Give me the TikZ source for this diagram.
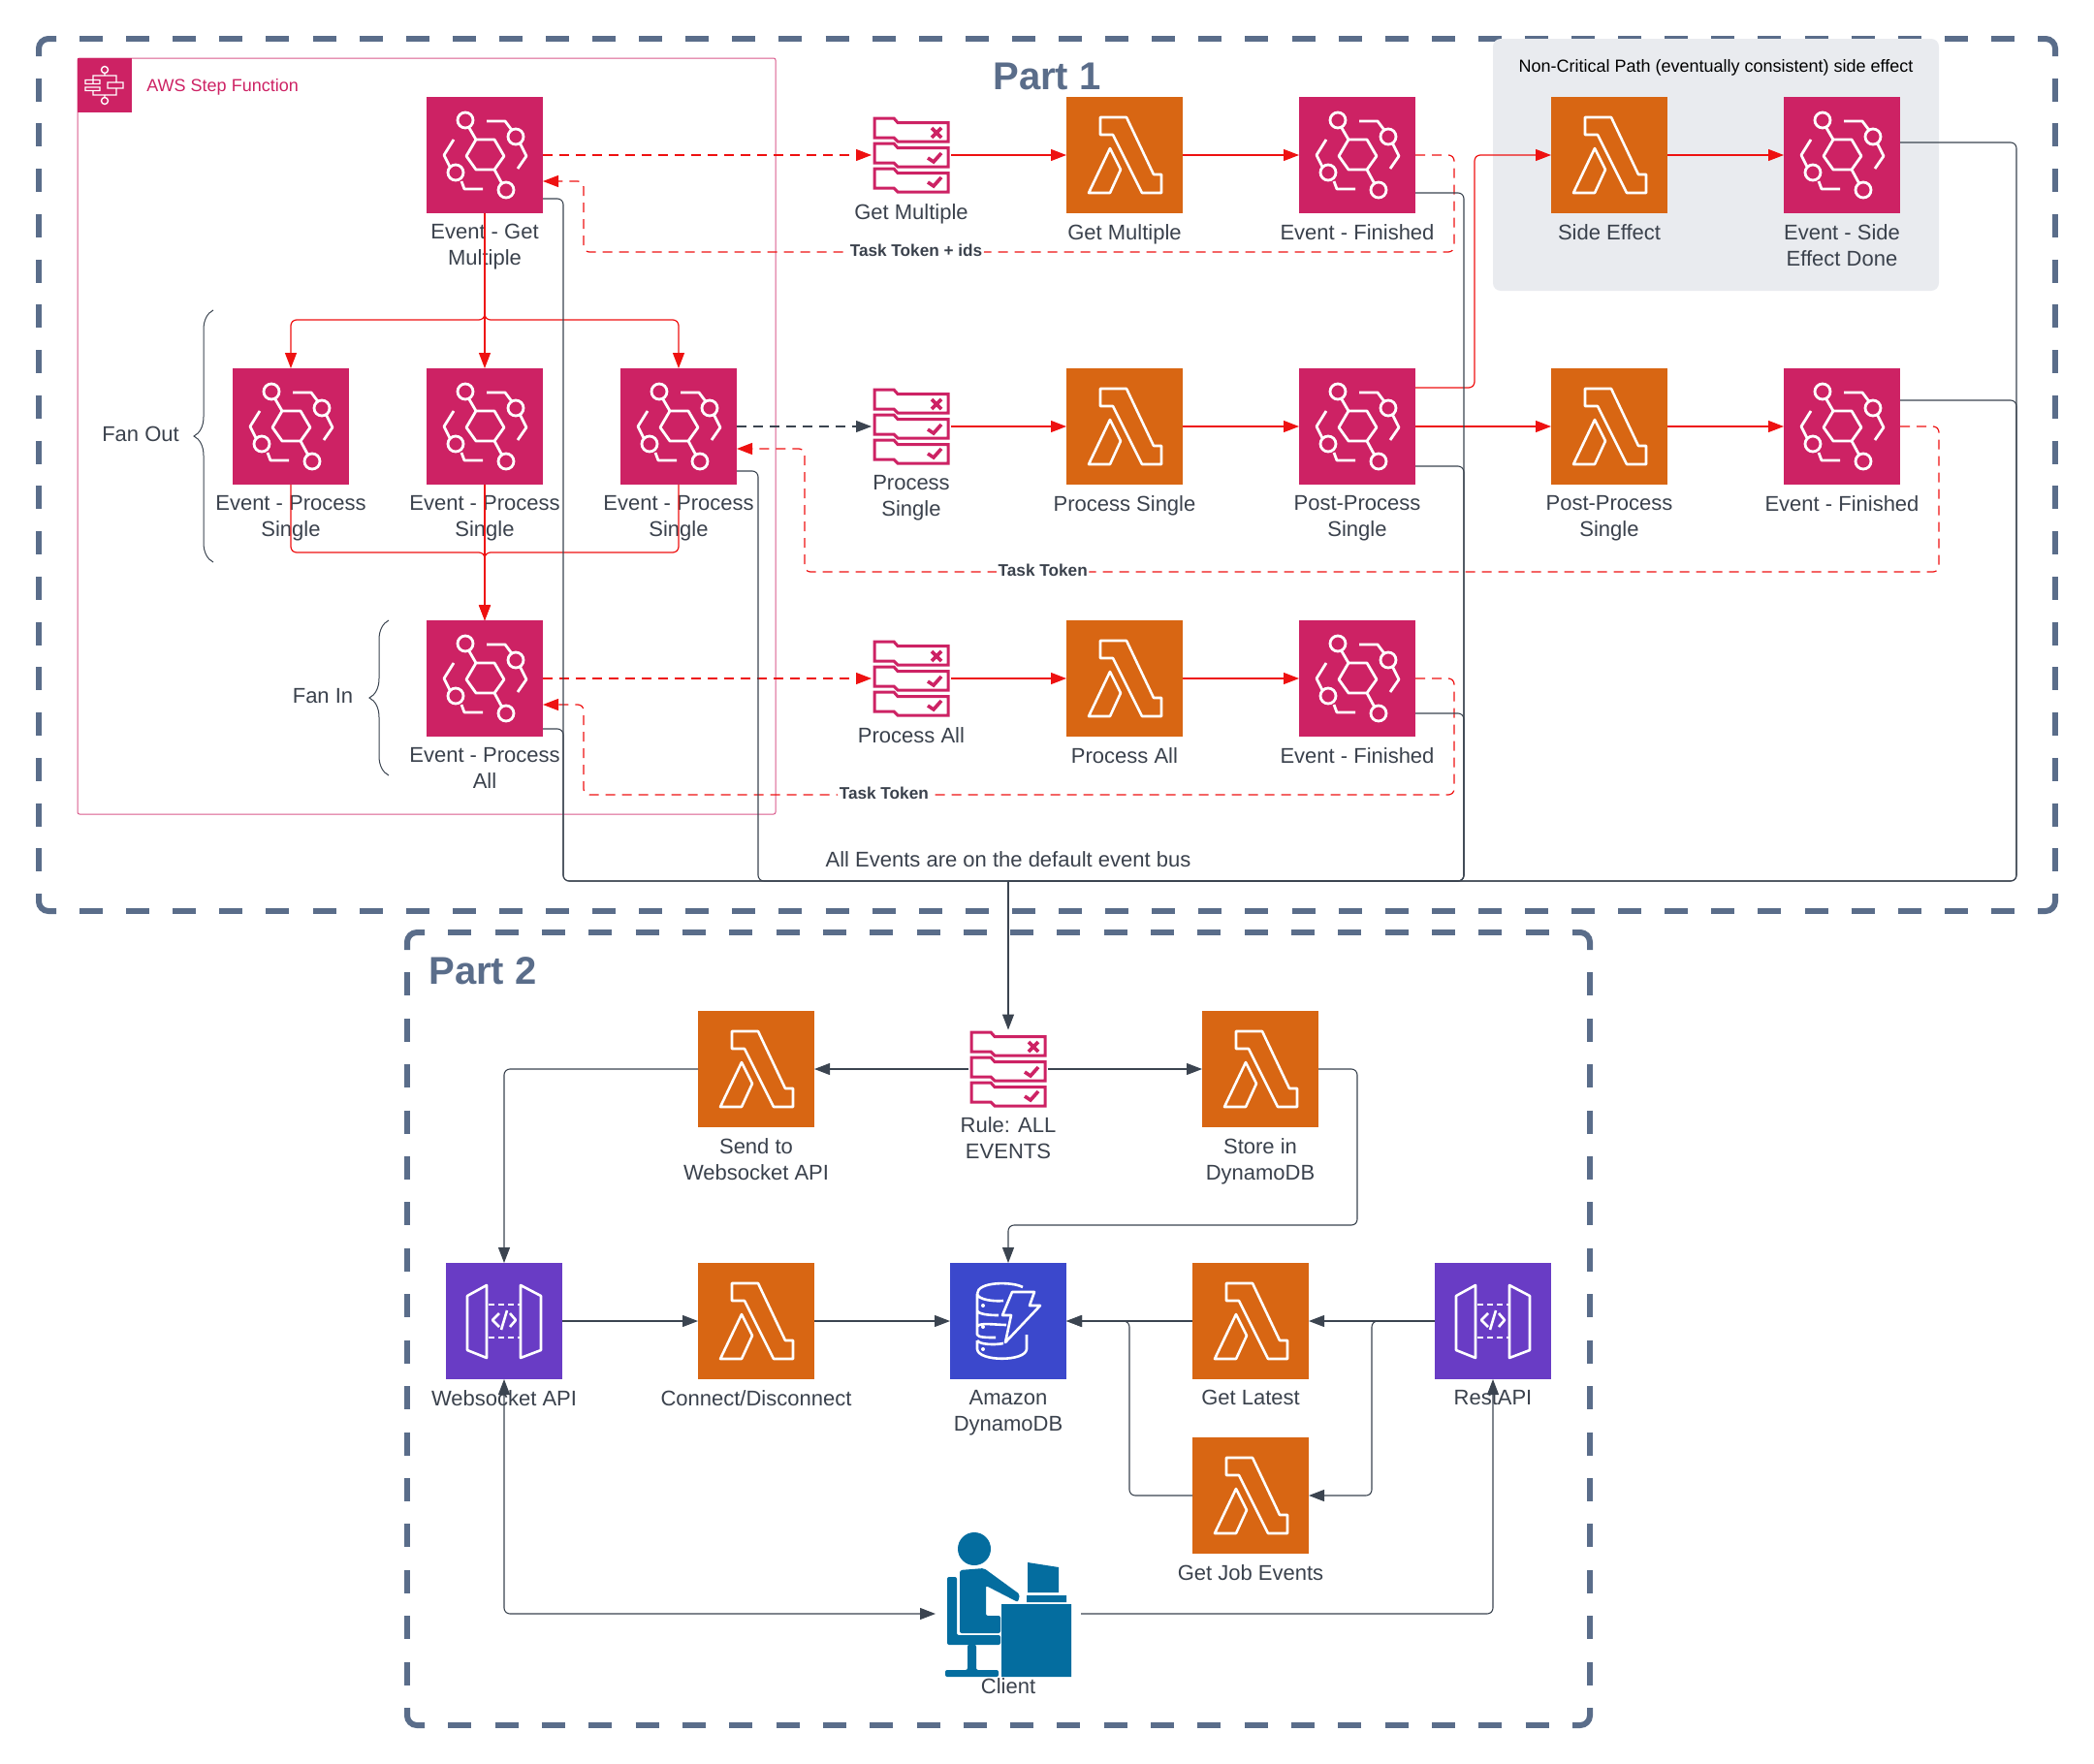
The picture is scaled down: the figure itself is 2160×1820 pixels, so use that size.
\documentclass[tikz,border=0pt]{standalone}
\usepackage{fontspec}
\setmainfont{Liberation Sans}
\usetikzlibrary{arrows.meta,decorations.pathreplacing}

\definecolor{evpink}{HTML}{CD2264}
\definecolor{lmorange}{HTML}{D86613}
\definecolor{apipurple}{HTML}{693CC5}
\definecolor{dbblue}{HTML}{3B48CC}
\definecolor{clientblue}{HTML}{046D9F}
\definecolor{slate}{HTML}{5A6D8A}
\definecolor{flowred}{HTML}{EE1111}
\definecolor{busgray}{HTML}{3B4450}
\definecolor{lblgray}{HTML}{3A414C}
\definecolor{sidegray}{HTML}{E9EBEF}

% icon drawings, in reference pixels from the middle of the node
\newcommand{\lambdaglyph}{%
  \begin{scope}[shift={(path picture bounding box.center)}]
    \draw[white,line width=1.3pt,line join=round]
      (-25,-39) -- (2,-39) -- (30,20) -- (38,20) -- (38,39) -- (18,39)
      -- (-12,-21) -- (-25,-21) -- cycle
      (-15,-7) -- (-37,39) -- (-15,39) -- (-4,15) -- cycle;
  \end{scope}}
\newcommand{\eventglyph}{%
  \begin{scope}[shift={(path picture bounding box.center)}]
    \draw[white,line width=1.4pt,line join=round]
      (-19,1) -- (-9,-16) -- (10,-16) -- (20,1) -- (10,15) -- (-9,15) -- cycle
      (-9,-16) -- (-16,-28) (10,15) -- (17,28)
      (-20,-36) circle (8) (32,-19) circle (8)
      (-30,18) circle (8) (22,36) circle (8)
      (2,-35) -- (21,-35) -- (27,-27)
      (37,-11) -- (43,1) -- (34,14)
      (-32,-16) -- (-42,0) -- (-36,12)
      (-24,27) -- (-21,35) -- (-2,35);
  \end{scope}}
\newcommand{\ruleglyph}{%
  \begin{scope}[shift={(path picture bounding box.center)}]
    \draw[evpink,line width=1.5pt,line join=miter]
      (-38,-38) -- (-18,-38) -- (-14,-33.5) -- (38,-33.5) -- (38,-14)
      -- (-14,-14) -- (-18,-18) -- (-38,-18) -- cycle
      (-38,-12) -- (-18,-12) -- (-14,-7.5) -- (38,-7.5) -- (38,12)
      -- (-14,12) -- (-18,8) -- (-38,8) -- cycle
      (-38,14) -- (-18,14) -- (-14,18.5) -- (38,18.5) -- (38,38)
      -- (-14,38) -- (-18,34) -- (-38,34) -- cycle;
    \draw[evpink,line width=1.8pt]
      (21,-28) -- (31,-18) (21,-18) -- (31,-28)
      (17,3) -- (23,7) -- (31,-2)
      (17,28) -- (23,32) -- (31,23);
  \end{scope}}
\newcommand{\apiglyph}{%
  \begin{scope}[shift={(path picture bounding box.center)}]
    \draw[white,line width=1.3pt,line join=round]
      (-38,-26) -- (-18,-37) -- (-18,38) -- (-38,30) -- cycle
      (38,-26) -- (17,-37) -- (17,38) -- (38,30) -- cycle
      (-5,-8) -- (-12,-1) -- (-5,6) (6,-8) -- (12,-1) -- (6,6)
      (3,-11) -- (-3,9);
    \draw[white,line width=1.3pt,dash pattern=on 3pt off 2pt]
      (-16,-17) -- (16,-17) (-16,17) -- (16,17);
  \end{scope}}
\newcommand{\dynamoglyph}{%
  \begin{scope}[shift={(path picture bounding box.center)}]
    \draw[white,line width=1.3pt,line join=round]
      (15,-35) .. controls (4,-41) and (-32,-41) .. (-32,-28)
      (-32,-28) .. controls (-31,-22) and (-15,-20) .. (-5,-21)
      (-32,-28) -- (-32,-11) .. controls (-31,-7) and (-20,-6) .. (-10,-6)
      (-32,-11) -- (-32,6) .. controls (-31,1) and (-12,4) .. (-2,4)
      (-32,6) -- (-32,14) .. controls (-31,17) and (-22,17) .. (-13,17)
      (-32,20) -- (-32,29) .. controls (-31,42) and (18,42) .. (19,29) -- (19,14)
      (-32,20) .. controls (-30,24) and (-15,25) .. (-5,23)
      (4,-30) -- (27,-30) -- (22,-16) -- (33,-16) -- (-3,22) -- (3,-6) -- (-6,-6) -- cycle;
    \fill[white] (-26,-16) circle (2) (-26,6) circle (2) (-26,29) circle (2);
  \end{scope}}
\newcommand{\stepglyph}{%
  \begin{scope}[shift={(path picture bounding box.center)}]
    \draw[white,line width=.7pt]
      (0,-16) circle (3.5) (0,16) circle (3.5)
      (0,-12.5) -- (0,-10) (0,12.5) -- (0,10)
      (-12,-1.5) -- (-12,-10) -- (12,-10) -- (12,-3)
      (-12,5) -- (-12,10) -- (12,10) -- (12,3)
      (-20,-5.5) rectangle (-5,-1.5) (-20,2) rectangle (-5,5.5)
      (3,-3) rectangle (19,3);
  \end{scope}}
\newcommand{\clientglyph}{%
  \begin{scope}[shift={(path picture bounding box.center)}]
    \fill[clientblue] (-35,-57) circle (17);
    \fill[clientblue,rounded corners=1pt]
      (-63,-28) -- (-53,-28) -- (-53,32) -- (-8,32) -- (-8,42) -- (-63,42) -- cycle
      (-42,42) -- (-33,42) -- (-33,68) -- (-10,68) -- (-10,75) -- (-65,75) -- (-65,68) -- (-42,68) -- cycle
      (-50,-35) -- (-25,-37) -- (12,-10) -- (10,-2) -- (-23,-19) -- (-23,12) -- (-8,12) -- (-8,30) -- (-50,30) -- cycle;
    \fill[clientblue]
      (-7,0) rectangle (65,75)
      (20,-43) -- (52,-38) -- (52,-12) -- (20,-12) -- cycle
      (19,-9) rectangle (60,-2);
  \end{scope}}

% dashed frame: a solid piece round each corner, #5 and #6 dashes along the sides
\newcommand{\partframe}[6]{%
  \pgfmathsetmacro{\gaph}{(#3-#1-36-24*#5)/(#5+1)}
  \pgfmathsetmacro{\gapv}{(#4-#2-36-24*#6)/(#6+1)}
  \pgfmathsetmacro{\gaphpt}{\gaph/2}
  \pgfmathsetmacro{\gapvpt}{\gapv/2}
  \draw[partline,rounded corners=5pt] (#1+18,#2) -- (#1,#2) -- (#1,#2+18);
  \draw[partline,rounded corners=5pt] (#3-18,#2) -- (#3,#2) -- (#3,#2+18);
  \draw[partline,rounded corners=5pt] (#1+18,#4) -- (#1,#4) -- (#1,#4-18);
  \draw[partline,rounded corners=5pt] (#3-18,#4) -- (#3,#4) -- (#3,#4-18);
  \draw[partline,dash pattern=on 12pt off \gaphpt pt]
    (#1+18+\gaph,#2) -- (#3-18,#2) (#1+18+\gaph,#4) -- (#3-18,#4);
  \draw[partline,dash pattern=on 12pt off \gapvpt pt]
    (#1,#2+18+\gapv) -- (#1,#4-18) (#3,#2+18+\gapv) -- (#3,#4-18);
}

\begin{document}
\begin{tikzpicture}[x=.5pt,y=-.5pt]
      \tikzset{
        node distance=130pt,
        iconbox/.style={rectangle,inner sep=0pt,outer sep=0pt,minimum size=60pt},
        evbox/.style={iconbox,fill=evpink,path picture={\eventglyph}},
        lmbox/.style={iconbox,fill=lmorange,path picture={\lambdaglyph}},
        apibox/.style={iconbox,fill=apipurple,path picture={\apiglyph}},
        dbbox/.style={iconbox,fill=dbblue,path picture={\dynamoglyph}},
        rulebox/.style={iconbox,fill=white,minimum width=41pt,minimum height=40.5pt,path picture={\ruleglyph}},
        iconlbl/.style={inner sep=0pt,outer sep=0pt,align=center,text=lblgray,label distance=5.8pt,
          font=\fontsize{11}{13.3}\selectfont},
        plaintxt/.style={inner sep=0pt,text=lblgray,align=center,font=\fontsize{11}{13.3}\selectfont},
        parttitle/.style={inner sep=0pt,text=slate,font=\fontsize{20}{24}\selectfont\bfseries},
        partline/.style={draw=slate,line width=3pt},
        tasklbl/.style={fill=white,inner sep=.8pt,text=lblgray,yshift=1pt,
          font=\fontsize{8.6}{10}\selectfont\bfseries},
        redline/.style={draw=flowred,line width=.6pt,rounded corners=3pt,
          -{Triangle[length=8pt,width=6pt]}},
        reddash/.style={redline,dash pattern=on 5pt off 3.5pt},
        busline/.style={draw=busgray,line width=.55pt,rounded corners=3pt},
        busarrow/.style={busline,-{Triangle[length=8pt,width=6pt]}},
        fanbrace/.style={draw=busgray,line width=.5pt,decorate,decoration={brace,amplitude=10pt}}
      }
      \useasboundingbox (0,0) rectangle (2160,1820);

      % containers
      \partframe{40}{40}{2120}{940}{42}{18}
      \partframe{420}{962}{1640}{1780}{24}{16}
      \node[rectangle,fill=sidegray,rounded corners=4pt,minimum width=230pt,minimum height=130pt,inner sep=0pt] (sidearea) at (1770,170) {};
      \node[rectangle,draw=evpink!75,line width=.5pt,rounded corners=1pt,minimum width=360pt,minimum height=390pt,inner sep=0pt] (sfnarea) at (440,450) {};
      \node[iconbox,minimum size=28pt,fill=evpink,path picture={\stepglyph}] (sfnicon) at (108,88) {};
      \node[inner sep=0pt,anchor=west,text=evpink,font=\fontsize{9}{11}\selectfont] (sfnlbl) at (151,90) {AWS Step Function};
      \node[parttitle] (part1lbl) at (1080,79) {Part 1};
      \node[parttitle,anchor=west] (part2lbl) at (442,1002) {Part 2};
      \node[inner sep=0pt,text=black,font=\fontsize{9}{11}\selectfont] (sidelbl) at (1770,70) {Non-Critical Path (eventually consistent) side effect};

      % row 1
      \node[evbox,label={[iconlbl]below:{Event - Get\\Multiple}}] (evgm) at (500,160) {};
      \node[rulebox,right of=evgm,node distance=220pt,label={[iconlbl,label distance=5pt]below:Get Multiple}] (rlgm) {};
      \node[lmbox,right of=rlgm,node distance=110pt,label={[iconlbl]below:Get Multiple}] (lmgm) {};
      \node[evbox,right of=lmgm,node distance=120pt,label={[iconlbl]below:Event - Finished}] (evfn1) {};
      \node[lmbox,right of=evfn1,label={[iconlbl]below:Side Effect}] (lmse) {};
      \node[evbox,right of=lmse,node distance=120pt,label={[iconlbl]below:{Event - Side\\Effect Done}}] (evse) {};

      % row 2
      \node[evbox,below of=evgm,node distance=140pt,label={[iconlbl]below:{Event - Process\\Single}}] (evps2) {};
      \node[evbox,left of=evps2,node distance=100pt,label={[iconlbl]below:{Event - Process\\Single}}] (evps1) {};
      \node[evbox,right of=evps2,node distance=100pt,label={[iconlbl]below:{Event - Process\\Single}}] (evps3) {};
      \node[rulebox,right of=evps3,node distance=120pt,label={[iconlbl,label distance=5pt]below:{Process\\Single}}] (rlps) {};
      \node[lmbox,right of=rlps,node distance=110pt,label={[iconlbl]below:Process Single}] (lmps) {};
      \node[evbox,right of=lmps,node distance=120pt,label={[iconlbl]below:{Post-Process\\Single}}] (evpp) {};
      \node[lmbox,right of=evpp,label={[iconlbl]below:{Post-Process\\Single}}] (lmpp) {};
      \node[evbox,right of=lmpp,node distance=120pt,label={[iconlbl]below:Event - Finished}] (evfn2) {};

      % row 3
      \node[evbox,below of=evps2,label={[iconlbl]below:{Event - Process\\All}}] (evpa) {};
      \node[rulebox,right of=evpa,node distance=220pt,label={[iconlbl,label distance=5pt]below:Process All}] (rlpa) {};
      \node[lmbox,right of=rlpa,node distance=110pt,label={[iconlbl]below:Process All}] (lmpa) {};
      \node[evbox,right of=lmpa,node distance=120pt,label={[iconlbl]below:Event - Finished}] (evfn3) {};

      \node[plaintxt] (fanout) at (145,448) {Fan Out};
      \node[plaintxt] (fanin) at (333,718) {Fan In};
      \node[plaintxt] (buslbl) at (1040,887) {All Events are on the default event bus};

      % part 2
      \node[rulebox,label={[iconlbl,label distance=4.5pt]below:{Rule: ALL\\EVENTS}}] (rlall) at (1040,1103) {};
      \node[lmbox,left of=rlall,label={[iconlbl]below:{Send to\\Websocket API}}] (lmsend) {};
      \node[lmbox,right of=rlall,label={[iconlbl]below:{Store in\\DynamoDB}}] (lmstore) {};
      \node[dbbox,below of=rlall,label={[iconlbl]below:{Amazon\\DynamoDB}}] (dynamo) {};
      \node[lmbox,left of=dynamo,label={[iconlbl]below:Connect/Disconnect}] (lmconn) {};
      \node[apibox,left of=lmconn,label={[iconlbl]below:Websocket API}] (wsapi) {};
      \node[lmbox,right of=dynamo,node distance=125pt,label={[iconlbl]below:Get Latest}] (lmlatest) {};
      \node[apibox,right of=lmlatest,node distance=125pt,label={[iconlbl]below:RestAPI}] (restapi) {};
      \node[lmbox,below of=lmlatest,node distance=90pt,label={[iconlbl]below:Get Job Events}] (lmjob) {};
      \node[iconbox,fill=white,below of=dynamo,node distance=146pt,minimum width=75pt,minimum height=75pt,
        path picture={\clientglyph},label={[iconlbl,label distance=1pt]below:Client}] (client) {};

      \coordinate (busjoin) at (1040,909);

      % state machine flow
      \draw[reddash] (evgm.east) -- (rlgm.west);
      \draw[redline] (rlgm.east) -- (lmgm.west);
      \draw[redline] (lmgm.east) -- (evfn1.west);
      \draw[reddash] (evfn1.east) -- ++(40,0) -- ++(0,100)
        -- node[tasklbl,pos=.618] {Task Token + ids} ++(-898,0) |- ([yshift=-13.5pt]evgm.east);
      \draw[redline] (evgm.south) -- (evps2.north);
      \draw[redline] (evgm.south) -- ++(0,110) -| (evps1.north);
      \draw[redline] (evgm.south) -- ++(0,110) -| (evps3.north);
      \draw[redline] (evps1.south) -- ++(0,70) -| (evpa.north);
      \draw[redline] (evps3.south) -- ++(0,70) -| (evpa.north);
      \draw[redline] (evps2.south) -- (evpa.north);
      \draw[reddash,draw=busgray] (evps3.east) -- (rlps.west);
      \draw[redline] (rlps.east) -- (lmps.west);
      \draw[redline] (lmps.east) -- (evpp.west);
      \draw[redline] (evpp.east) -- (lmpp.west);
      \draw[redline] (lmpp.east) -- (evfn2.west);
      \draw[reddash] (evfn2.east) -- ++(40,0) -- ++(0,150)
        -- node[tasklbl,pos=.79] {Task Token} ++(-1170,0) |- ([yshift=-11.5pt]evps3.east);
      \draw[redline] ([yshift=20pt]evpp.east) -- ++(61,0) |- (lmse.west);
      \draw[redline] (lmse.east) -- (evse.west);
      \draw[reddash] (evpa.east) -- (rlpa.west);
      \draw[redline] (rlpa.east) -- (lmpa.west);
      \draw[redline] (lmpa.east) -- (evfn3.west);
      \draw[reddash] (evfn3.east) -- ++(40,0) -- ++(0,120)
        -- node[tasklbl,pos=.655] {Task Token} ++(-898,0) |- ([yshift=-13.5pt]evpa.east);

      % default event bus
      \draw[busline] ([yshift=-22.5pt]evgm.east) -- ++(21,0) |- (busjoin);
      \draw[busline] ([yshift=-26pt]evpa.east) -- ++(21,0) |- (busjoin);
      \draw[busline] ([yshift=-23pt]evps3.east) -- ++(22,0) |- (busjoin);
      \draw[busline] ([yshift=-19.5pt]evfn1.east) -- ++(50,0) |- (busjoin);
      \draw[busline] ([yshift=-20.5pt]evpp.east) -- ++(50,0) |- (busjoin);
      \draw[busline] ([yshift=-18pt]evfn3.east) -- ++(50,0) |- (busjoin);
      \draw[busline] ([yshift=6.5pt]evse.east) -- ++(120,0) |- (busjoin);
      \draw[busline] ([yshift=13.5pt]evfn2.east) -- ++(120,0) |- (busjoin);
      \draw[busarrow] (busjoin) -- (rlall.north);

      % part 2 flow
      \draw[busarrow] (rlall.west) -- (lmsend.east);
      \draw[busarrow] (rlall.east) -- (lmstore.west);
      \draw[busarrow] (lmsend.west) -| (wsapi.north);
      \draw[busarrow] (lmstore.east) -- ++(40,0) -- ++(0,161) -| (dynamo.north);
      \draw[busarrow] (wsapi.east) -- (lmconn.west);
      \draw[busarrow] (lmconn.east) -- (dynamo.west);
      \draw[busarrow] (lmlatest.west) -- (dynamo.east);
      \draw[busarrow] (lmjob.west) -- ++(-65,0) |- (dynamo.east);
      \draw[busarrow] (restapi.west) -- (lmlatest.east);
      \draw[busarrow] (restapi.west) -- ++(-65,0) |- (lmjob.east);
      \draw[busarrow,{Triangle[length=8pt,width=6pt]}-{Triangle[length=8pt,width=6pt]}]
        (wsapi.south) |- ([yshift=-5pt]client.west);
      \draw[busarrow] ([yshift=-5pt]client.east) -| (restapi.south);

      % braces
      \draw[fanbrace] (220,580) -- (220,320);
      \draw[fanbrace] (401,800) -- (401,640);
    \end{tikzpicture}
\end{document}
